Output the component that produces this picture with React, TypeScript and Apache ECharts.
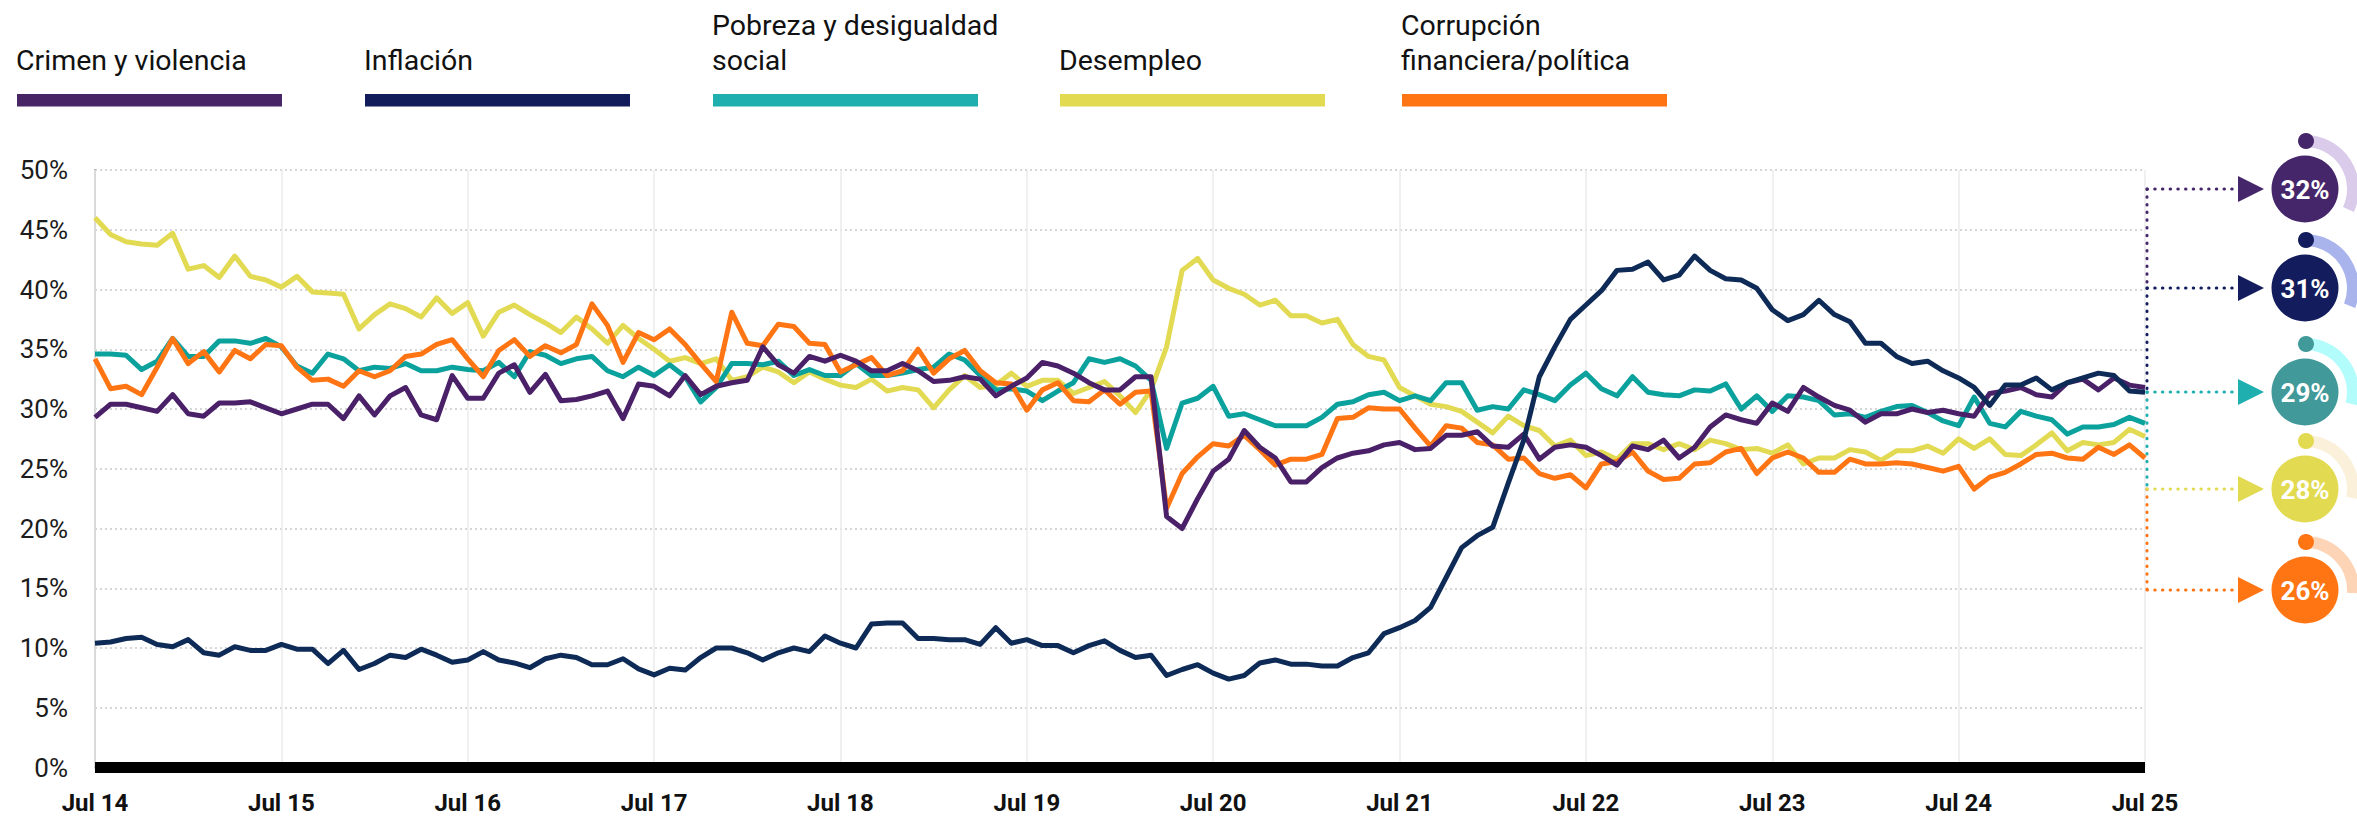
import React, { useEffect, useRef } from "react";
import * as echarts from "echarts";

// ---------- DATA ----------
const MONTH_ABBR = ["Ene", "Feb", "Mar", "Abr", "May", "Jun", "Jul", "Ago", "Sep", "Oct", "Nov", "Dic"];
const START_YEAR = 2014;
const START_MONTH = 6; // Jul
const N_MONTHS = 133; // Jul 2014 .. Jul 2025

const categories: string[] = [];
for (let i = 0; i < N_MONTHS; i++) {
  const m = (START_MONTH + i) % 12;
  const y = START_YEAR + Math.floor((START_MONTH + i) / 12);
  categories.push(`${MONTH_ABBR[m]} ${String(y).slice(2)}`);
}

const yTicks = [0, 5, 10, 15, 20, 25, 30, 35, 40, 45, 50];

const crimen = [
  29.3, 30.4, 30.4, 30.1, 29.8, 31.2, 29.6, 29.4, 30.5, 30.5, 30.6, 30.1, 29.6, 30.0, 30.4, 30.4, 29.2, 31.1, 29.5, 31.1, 31.8, 29.5, 29.1, 32.8,
  30.9, 30.9, 33.0, 33.7, 31.4, 32.9, 30.7, 30.8, 31.1, 31.5, 29.2, 32.1, 31.9, 31.1, 32.8, 31.2, 31.9, 32.2, 32.4, 35.2, 33.7, 33.0, 34.4, 34.0, 34.5,
  34.0, 33.2, 33.2, 33.8, 33.2, 32.3, 32.4, 32.7, 32.5, 31.1, 31.9, 32.6, 33.9, 33.6, 33.0, 32.2, 31.6, 31.6, 32.7, 32.7, 21.0, 20.0, 22.5, 24.8,
  25.8, 28.2, 26.8, 25.9, 23.9, 23.9, 25.1, 25.9, 26.3, 26.5, 27.0, 27.2, 26.6, 26.7, 27.8, 27.8, 28.1, 26.9, 26.8, 27.9, 25.8, 26.8, 27.0, 26.8, 26.1,
  25.3, 26.9, 26.6, 27.4, 25.9, 26.8, 28.5, 29.5, 29.1, 28.8, 30.5, 29.8, 31.8, 31.0, 30.3, 29.9, 28.9, 29.6, 29.6, 30.0, 29.7, 29.9, 29.6, 29.4,
  31.3, 31.5, 31.8, 31.2, 31.0, 32.2, 32.5, 31.6, 32.6, 32.0, 31.8,
];

const inflacion = [
  10.4, 10.5, 10.8, 10.9, 10.3, 10.1, 10.7, 9.6, 9.4, 10.1, 9.8, 9.8, 10.3, 9.9, 9.9, 8.7, 9.8, 8.2, 8.7, 9.4, 9.2, 9.9, 9.4, 8.8,
  9.0, 9.7, 9.0, 8.75, 8.35, 9.1, 9.4, 9.2, 8.6, 8.6, 9.1, 8.25, 7.75, 8.3, 8.15, 9.2, 10.0, 10.0, 9.6, 9.0, 9.6, 10.0, 9.7, 11.0, 10.4,
  10.0, 12.0, 12.1, 12.1, 10.8, 10.8, 10.7, 10.7, 10.3, 11.7, 10.4, 10.7, 10.2, 10.2, 9.6, 10.2, 10.6, 9.8, 9.2, 9.4, 7.7, 8.2, 8.6, 7.9,
  7.4, 7.7, 8.75, 9.0, 8.65, 8.65, 8.5, 8.5, 9.2, 9.6, 11.2, 11.7, 12.3, 13.4, 15.9, 18.4, 19.4, 20.1, 23.8, 27.4, 32.7, 35.2, 37.5, 38.7, 39.9,
  41.6, 41.7, 42.3, 40.8, 41.2, 42.8, 41.6, 40.9, 40.8, 40.1, 38.3, 37.4, 37.9, 39.1, 37.9, 37.3, 35.5, 35.5, 34.4, 33.8, 34.0, 33.2, 32.6, 31.8,
  30.3, 32.0, 32.0, 32.6, 31.6, 32.2, 32.6, 33.0, 32.8, 31.5, 31.4,
];

const pobreza = [
  34.6, 34.6, 34.5, 33.3, 34.0, 35.9, 34.4, 34.4, 35.7, 35.7, 35.5, 35.9, 35.2, 33.6, 33.0, 34.6, 34.2, 33.2, 33.5, 33.4, 33.8, 33.2, 33.2, 33.5,
  33.3, 33.2, 33.9, 32.7, 34.8, 34.5, 33.8, 34.2, 34.4, 33.2, 32.7, 33.5, 32.8, 33.7, 32.7, 30.6, 31.8, 33.8, 33.8, 33.7, 34.0, 32.8, 33.3, 32.8, 32.8,
  33.8, 32.8, 32.8, 33.0, 33.3, 33.5, 34.6, 34.1, 32.8, 31.6, 31.7, 31.5, 30.7, 31.5, 32.2, 34.2, 33.9, 34.2, 33.6, 32.4, 26.7, 30.5, 30.9, 31.9,
  29.4, 29.6, 29.1, 28.6, 28.6, 28.6, 29.3, 30.4, 30.6, 31.2, 31.4, 30.7, 31.1, 30.7, 32.2, 32.2, 29.9, 30.2, 30.0, 31.6, 31.2, 30.7, 32.0, 33.0, 31.7,
  31.1, 32.7, 31.4, 31.2, 31.1, 31.6, 31.5, 32.1, 30.0, 31.1, 29.8, 31.1, 31.0, 30.7, 29.5, 29.6, 29.3, 29.8, 30.2, 30.3, 29.7, 29.0, 28.6, 31.0,
  28.8, 28.5, 29.8, 29.4, 29.1, 27.9, 28.5, 28.5, 28.7, 29.3, 28.8,
];

const desempleo = [
  46.0, 44.6, 44.0, 43.8, 43.7, 44.7, 41.7, 42.0, 41.0, 42.8, 41.1, 40.8, 40.2, 41.1, 39.8, 39.7, 39.6, 36.7, 37.9, 38.8, 38.4, 37.7, 39.3, 38.0,
  38.9, 36.1, 38.1, 38.7, 37.9, 37.2, 36.4, 37.7, 36.7, 35.5, 37.0, 35.9, 35.0, 34.0, 34.3, 33.8, 34.2, 32.4, 32.7, 33.5, 33.1, 32.2, 33.1, 32.5, 32.0,
  31.8, 32.5, 31.5, 31.8, 31.6, 30.1, 31.6, 32.8, 31.8, 32.0, 33.0, 31.9, 32.4, 32.4, 31.3, 31.8, 32.3, 31.1, 29.7, 31.6, 35.2, 41.6, 42.6, 40.8,
  40.1, 39.6, 38.7, 39.1, 37.8, 37.8, 37.2, 37.5, 35.4, 34.4, 34.1, 31.8, 31.1, 30.4, 30.2, 29.8, 28.9, 28.0, 29.4, 28.6, 28.2, 26.9, 27.4, 26.1, 26.4,
  25.8, 27.1, 27.1, 26.6, 27.1, 26.6, 27.4, 27.1, 26.6, 26.7, 26.3, 27.0, 25.4, 25.9, 25.9, 26.6, 26.4, 25.7, 26.5, 26.5, 26.9, 26.3, 27.5, 26.7,
  27.5, 26.2, 26.1, 27.0, 28.0, 26.5, 27.2, 27.0, 27.2, 28.3, 27.7,
];

const corrupcion = [
  34.2, 31.7, 31.9, 31.2, 33.5, 35.9, 33.8, 34.8, 33.1, 34.9, 34.2, 35.4, 35.3, 33.5, 32.4, 32.5, 31.9, 33.2, 32.7, 33.2, 34.4, 34.6, 35.4, 35.8,
  34.2, 32.7, 34.9, 35.8, 34.4, 35.3, 34.7, 35.4, 38.8, 37.0, 33.9, 36.4, 35.8, 36.7, 35.4, 33.8, 32.3, 38.1, 35.5, 35.3, 37.1, 36.9, 35.5, 35.4, 33.1,
  33.7, 34.3, 32.8, 33.2, 35.0, 33.0, 34.2, 34.9, 33.2, 32.2, 32.1, 29.9, 31.6, 32.2, 30.7, 30.6, 31.6, 30.4, 31.4, 31.5, 21.7, 24.6, 26.0, 27.1,
  26.9, 27.8, 26.6, 25.3, 25.8, 25.8, 26.2, 29.2, 29.3, 30.1, 30.0, 30.0, 28.4, 26.9, 28.6, 28.4, 27.2, 27.0, 25.8, 25.9, 24.6, 24.2, 24.5, 23.4, 25.4,
  25.6, 26.4, 24.8, 24.1, 24.2, 25.4, 25.5, 26.4, 26.7, 24.6, 25.9, 26.4, 25.9, 24.7, 24.7, 25.8, 25.4, 25.4, 25.5, 25.4, 25.1, 24.8, 25.2, 23.3,
  24.3, 24.7, 25.4, 26.2, 26.3, 25.9, 25.8, 26.8, 26.2, 27.0, 25.9,
];

const seriesNames = [
  "Crimen y violencia",
  "Inflación",
  "Pobreza y desigualdad social",
  "Desempleo",
  "Corrupción financiera/política",
];
const legendLabels = [
  "Crimen y violencia",
  "Inflación",
  "Pobreza y desigualdad\nsocial",
  "Desempleo",
  "Corrupción\nfinanciera/política",
];
const seriesData = [crimen, inflacion, pobreza, desempleo, corrupcion];
const badgeValues = [32, 31, 29, 28, 26];

// ---------- STYLE ----------
const lineColors = ["#4A2168", "#0E2A57", "#0BA19D", "#E2DA52", "#FF7514"];
const legendColors = ["#482565", "#121C5A", "#20AFAF", "#E2DA50", "#FF7514"];
const badgeColors = ["#46266A", "#131C5C", "#41999A", "#E2DA50", "#FF7514"];
const arcColors = ["#D9CBE9", "#A9B3EC", "#B2FCFC", "#FBF0D9", "#FDD5B6"];
const connectorColors = ["#46266A", "#131C5C", "#20AFAF", "#E2DA50", "#FF7514"];
const drawOrder = [3, 2, 4, 0, 1];

const FONT = "Roboto, 'Noto Sans', sans-serif";
const W = 2357;
const H = 816;

function buildGraphics(): any[] {
  const g: any[] = [];
  // legend
  const legendX = [16, 364, 712, 1059, 1401];
  legendLabels.forEach((lab, i) => {
    g.push({
      type: "text",
      style: {
        text: lab,
        x: legendX[i],
        y: 77.5,
        fill: "#111",
        font: `400 28.5px ${FONT}`,
        textAlign: "left",
        textVerticalAlign: "bottom",
        lineHeight: 35,
      },
    });
    g.push({
      type: "rect",
      shape: { x: legendX[i] + 1, y: 94, width: 265, height: 12.5 },
      style: { fill: legendColors[i] },
    });
  });

  // badges
  const badgeY = [189, 288, 392, 489, 590];
  const cx = 2305;
  const vx = 2147;
  const dotted = (color: string) => ({
    stroke: color,
    lineWidth: 3,
    lineDash: [0.5, 7.2],
    lineCap: "round",
  });
  // vertical connector chain
  const vSegs = [
    [badgeY[0], badgeY[1], 0],
    [badgeY[1], badgeY[2], 1],
    [badgeY[2], badgeY[3], 2],
    [badgeY[3], badgeY[4], 4],
  ];
  vSegs.forEach(([y1, y2, c]) => {
    g.push({
      type: "line",
      shape: { x1: vx, y1, x2: vx, y2 },
      style: dotted(connectorColors[c]),
      z: 10,
    });
  });
  badgeY.forEach((y, i) => {
    g.push({
      type: "line",
      shape: { x1: vx, y1: y, x2: 2236, y2: y },
      style: dotted(connectorColors[i]),
      z: 10,
    });
    g.push({
      type: "polygon",
      shape: { points: [[2238, y - 13], [2264, y], [2238, y + 13]] },
      style: { fill: connectorColors[i] },
      z: 10,
    });
    const sweep = (badgeValues[i] / 100) * Math.PI * 2;
    g.push({
      type: "arc",
      shape: { cx, cy: y, r: 48, startAngle: -Math.PI / 2, endAngle: -Math.PI / 2 + sweep, clockwise: true },
      style: { stroke: arcColors[i], lineWidth: 12, fill: "none" },
      z: 10,
    });
    g.push({
      type: "circle",
      shape: { cx: cx + 1, cy: y - 48, r: 8 },
      style: { fill: badgeColors[i] },
      z: 11,
    });
    g.push({
      type: "circle",
      shape: { cx, cy: y, r: 33.5 },
      style: { fill: badgeColors[i] },
      z: 11,
    });
    g.push({
      type: "text",
      style: {
        text: `${badgeValues[i]}%`,
        x: cx,
        y: y + 1,
        fill: "#ffffff",
        font: `700 26px ${FONT}`,
        textAlign: "center",
        textVerticalAlign: "middle",
      },
      z: 12,
    });
  });
  return g;
}

export default function App() {
  const ref = useRef<HTMLDivElement>(null);
  useEffect(() => {
    if (!ref.current) return;
    const chart = echarts.init(ref.current, undefined, { renderer: "svg" });
    chart.setOption({
      animation: false,
      backgroundColor: "#ffffff",
      grid: { left: 95, right: 212, top: 170, bottom: 48.5, containLabel: false },
      xAxis: {
        type: "category",
        data: categories,
        boundaryGap: false,
        axisLine: { show: true, lineStyle: { color: "#000000", width: 11, cap: "butt" } },
        axisTick: { show: false },
        axisLabel: {
          interval: 11,
          color: "#111111",
          fontFamily: FONT,
          fontWeight: 700,
          fontSize: 24,
          margin: 23,
        },
        splitLine: { show: true, interval: 11, lineStyle: { color: "#ebebeb", width: 1.5 } },
        z: 3,
      },
      yAxis: {
        type: "value",
        min: yTicks[0],
        max: yTicks[yTicks.length - 1],
        interval: 5,
        axisLine: { show: true, lineStyle: { color: "#a6a6a6", width: 2 } },
        axisTick: { show: false },
        axisLabel: {
          formatter: "{value}%",
          color: "#1c1c1c",
          fontFamily: FONT,
          fontSize: 26,
          margin: 27,
        },
        splitLine: { show: true, lineStyle: { color: "#c9c9c9", width: 1.5, type: [2, 3] } },
      },
      series: drawOrder.map((i) => ({
        name: seriesNames[i],
        type: "line",
        data: seriesData[i],
        showSymbol: false,
        symbol: "none",
        lineStyle: { color: lineColors[i], width: 5, join: "round" },
        itemStyle: { color: lineColors[i] },
        z: 4,
      })),
      graphic: buildGraphics(),
    });
    return () => chart.dispose();
  }, []);
  return (
    <div
      ref={ref}
      style={{ position: "fixed", left: 0, top: 0, width: W, height: H, background: "#fff" }}
    />
  );
}
